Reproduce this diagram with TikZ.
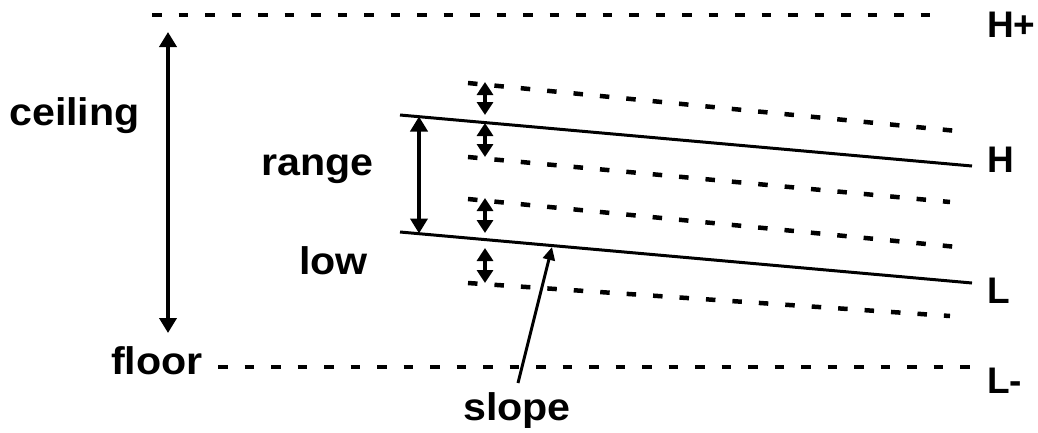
\documentclass[tikz,border=0pt]{standalone}
\usepackage{fontspec}
\setmainfont{Liberation Sans}
\usetikzlibrary{arrows.meta}
\begin{document}
\begin{tikzpicture}[x=1pt,y=-1pt,
 lbl/.style={font=\fontsize{38.5}{40}\selectfont\bfseries, inner sep=0pt, anchor=base west, xscale=1.07, transform shape},
 rlbl/.style={font=\fontsize{37}{40}\selectfont\bfseries, inner sep=0pt, anchor=base west},
 dline/.style={line width=4.5pt, dash pattern=on 9.5pt off 17pt},
 sline/.style={line width=3pt},
 bigarr/.style={line width=4.5pt, {Triangle[length=15pt,width=17pt]}-{Triangle[length=15pt,width=17pt]}},
 smallarr/.style={line width=3.5pt, {Triangle[length=13pt,width=16pt]}-{Triangle[length=13pt,width=16pt]}},
 slopearr/.style={line width=3pt, -{Triangle[length=13pt,width=12pt]}},
]
\useasboundingbox (0,0) rectangle (1038,432);
% labels
\node[lbl] (ceil) at (9,125) {ceiling};
\node[lbl] (range) at (261,175) {range};
\node[lbl] (low) at (299,274) {low};
\node[lbl] (floor) at (111,374) {floor};
\node[lbl] (slope) at (463,420) {slope};
\node[rlbl] (hp) at (987,37) {H+};
\node[rlbl] (h) at (987,172) {H};
\node[rlbl] (l) at (987,303) {L};
\node[rlbl] (lm) at (987,393) {L-};
% line end points
\coordinate (hp1) at (152,15);  \coordinate (hp2) at (935,15);
\coordinate (lm1) at (218,367); \coordinate (lm2) at (970,367);
\coordinate (h1) at (400,115);  \coordinate (h2) at (972,166);
\coordinate (l1) at (400,232);  \coordinate (l2) at (972,283);
\coordinate (d1a) at (468,83);  \coordinate (d1b) at (957,131);
\coordinate (d2a) at (468,157); \coordinate (d2b) at (950,202);
\coordinate (d3a) at (468,199); \coordinate (d3b) at (957,247);
\coordinate (d4a) at (468,283); \coordinate (d4b) at (950,316);
% lines
\draw[dline] (hp1) -- (hp2);
\draw[dline] (lm1) -- (lm2);
\draw[sline] (h1) -- (h2);
\draw[sline] (l1) -- (l2);
\draw[dline] (d1a) -- (d1b);
\draw[dline] (d2a) -- (d2b);
\draw[dline] (d3a) -- (d3b);
\draw[dline] (d4a) -- (d4b);
% arrows
\coordinate (c1) at (168,32);  \coordinate (c2) at (168,333);
\draw[bigarr] (c1) -- (c2);
\coordinate (r1) at (419,116.5); \coordinate (r2) at (419,233.5);
\draw[bigarr] (r1) -- (r2);
\coordinate (a1t) at (485,82);  \coordinate (a1b) at (485,115);
\coordinate (a2t) at (485,123); \coordinate (a2b) at (485,157);
\coordinate (a3t) at (485,198); \coordinate (a3b) at (485,233);
\coordinate (a4t) at (485,248); \coordinate (a4b) at (485,283);
\draw[smallarr] (a1t) -- (a1b);
\draw[smallarr] (a2t) -- (a2b);
\draw[smallarr] (a3t) -- (a3b);
\draw[smallarr] (a4t) -- (a4b);
\coordinate (s1) at (518,383); \coordinate (s2) at (552,247);
\draw[slopearr] (s1) -- (s2);
\end{tikzpicture}
\end{document}
